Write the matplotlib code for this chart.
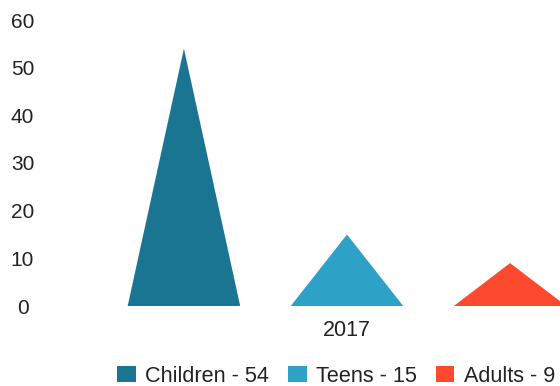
import matplotlib
matplotlib.use("Agg")
import matplotlib.pyplot as plt
from matplotlib.patches import Patch

categories = ["2017"]
series_names = ["Children", "Teens", "Adults"]
series_values = [54, 15, 9]
colors = ["#1a7593", "#2ea2c6", "#fd4a2e"]
yticks = [0, 10, 20, 30, 40, 50, 60]

plt.rcParams['font.family'] = ['Liberation Sans', 'DejaVu Sans']

W, H = 560, 386
fig = plt.figure(figsize=(W / 100, H / 100), dpi=100)
left_px, right_px = 60, 634
bottom_px, top_px = 306, 20
ax = fig.add_axes([left_px / W, (H - bottom_px) / H,
                   (right_px - left_px) / W, (bottom_px - top_px) / H])

n = len(series_values)
spacing = 1.0
half_w = 0.345
for ci, cat in enumerate(categories):
    for si, (name, val, col) in enumerate(zip(series_names, series_values, colors)):
        xc = ci + (si - (n - 1) / 2) * spacing
        ax.fill([xc - half_w, xc, xc + half_w], [0, val, 0], color=col,
                linewidth=0)

txt_color = "#222222"
ax.set_xlim(-1.76, 1.76)
ax.set_ylim(0, 60)
ax.set_yticks(yticks)
ax.set_yticklabels([str(t) for t in yticks], fontsize=15, color=txt_color, ha="center")
ax.set_xticks(range(len(categories)))
ax.set_xticklabels(categories, fontsize=15.5, color=txt_color)
ax.tick_params(axis='y', length=0, pad=27)
ax.tick_params(axis='x', length=0, pad=10)
for s in ax.spines.values():
    s.set_visible(False)

handles = [Patch(facecolor=c, edgecolor='none') for c in colors]
labels = [f"{nm} - {v}" for nm, v in zip(series_names, series_values)]
fig.legend(handles, labels, loc='center', bbox_to_anchor=(336 / W, (H - 376) / H),
           ncol=3, frameon=False, fontsize=15.6, handlelength=0.85, handleheight=0.75,
           handletextpad=0.42, columnspacing=0.9, labelcolor=txt_color,
           borderpad=0, borderaxespad=0)

fig.savefig("out.png", dpi=100)
